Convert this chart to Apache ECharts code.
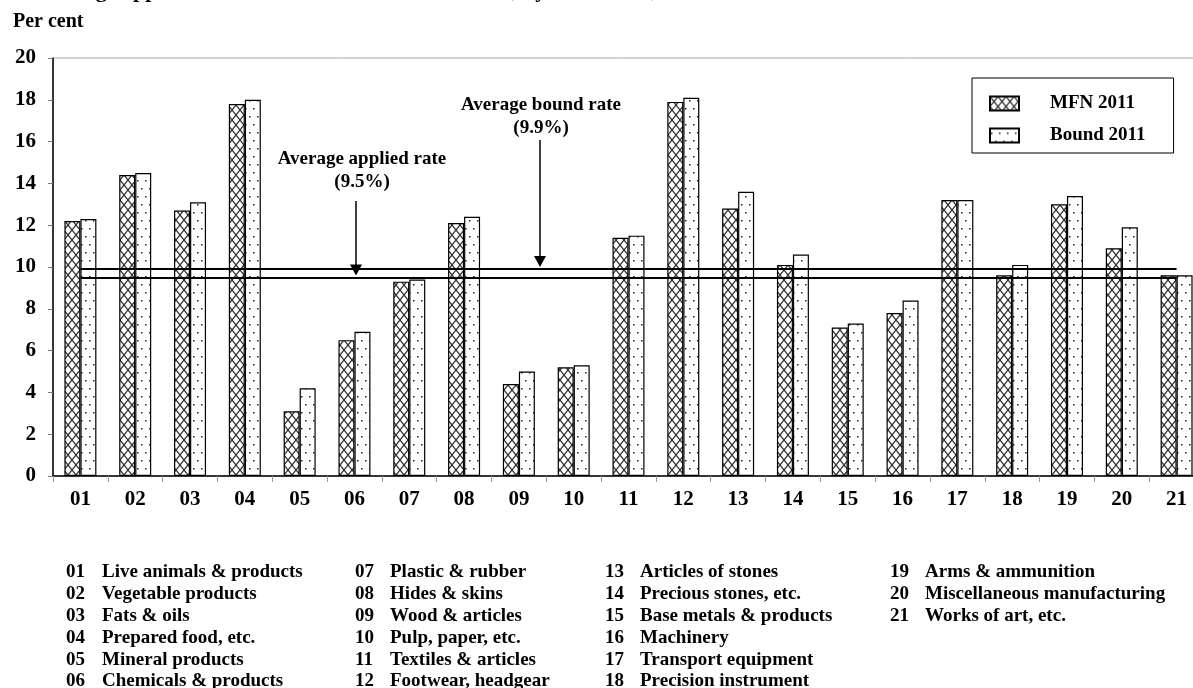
<!DOCTYPE html>
<html>
<head>
<meta charset="utf-8">
<title>Average applied MFN tariff rates and bound rates, by HS section, 2011</title>
<script src="https://cdn.jsdelivr.net/npm/echarts@6/dist/echarts.min.js"></script>
<style>
  html, body { margin: 0; padding: 0; background: #fff; }
  #main { width: 1193px; height: 688px; }
</style>
</head>
<body>
<div id="main"></div>
<script>
// HS sections and tariff rates (per cent)
const categories = ['01','02','03','04','05','06','07','08','09','10','11','12','13','14','15','16','17','18','19','20','21'];
const mfn2011   = [12.2, 14.4, 12.7, 17.8, 3.1, 6.5, 9.3, 12.1, 4.4, 5.2, 11.4, 17.9, 12.8, 10.1, 7.1, 7.8, 13.2, 9.6, 13.0, 10.9, 9.6];
const bound2011 = [12.3, 14.5, 13.1, 18.0, 4.2, 6.9, 9.4, 12.4, 5.0, 5.3, 11.5, 18.1, 13.6, 10.6, 7.3, 8.4, 13.2, 10.1, 13.4, 11.9, 9.6];
const averageApplied = 9.5;
const averageBound = 9.9;
const seriesNames = ['MFN 2011', 'Bound 2011'];
const sectionNames = [
  'Live animals & products', 'Vegetable products', 'Fats & oils', 'Prepared food, etc.',
  'Mineral products', 'Chemicals & products', 'Plastic & rubber', 'Hides & skins',
  'Wood & articles', 'Pulp, paper, etc.', 'Textiles & articles', 'Footwear, headgear',
  'Articles of stones', 'Precious stones, etc.', 'Base metals & products', 'Machinery',
  'Transport equipment', 'Precision instrument', 'Arms & ammunition',
  'Miscellaneous manufacturing', 'Works of art, etc.'
];
const titleText = 'Average applied MFN tariff rates and bound rates, by HS section, 2011';
const unitText = 'Per cent';
const appliedLabel = ['Average applied rate', '(' + averageApplied.toFixed(1) + '%)'];
const boundLabel = ['Average bound rate', '(' + averageBound.toFixed(1) + '%)'];

const FONT = "'Liberation Serif', 'Times New Roman', serif";

// Fill patterns: cross-hatch for MFN bars, sparse dots for bound bars
function crossHatch() {
  const c = document.createElement('canvas');
  c.width = 8; c.height = 10;
  const g = c.getContext('2d');
  g.fillStyle = '#fff'; g.fillRect(0, 0, 8, 10);
  g.strokeStyle = '#333'; g.lineWidth = 1.3;
  g.beginPath();
  g.moveTo(0, 0); g.lineTo(8, 10);
  g.moveTo(8, 0); g.lineTo(0, 10);
  g.stroke();
  return c;
}
function dots() {
  const c = document.createElement('canvas');
  c.width = 8; c.height = 16;
  const g = c.getContext('2d');
  g.fillStyle = '#fff'; g.fillRect(0, 0, 8, 16);
  g.fillStyle = '#222';
  g.fillRect(1, 4, 1.5, 1.5);
  g.fillRect(5, 12, 1.5, 1.5);
  return c;
}
const hatchFill = { image: crossHatch(), repeat: 'repeat' };
const dotFill = { image: dots(), repeat: 'repeat' };

function boldText(id, left, top, text, size) {
  return {
    type: 'text', id: id, left: left, top: top, z: 20,
    style: { text: text, fontFamily: FONT, fontWeight: 'bold', fontSize: size, fill: '#000' }
  };
}

// Section key below the chart, six rows per column
const keyColumns = [{ code: 66, name: 102 }, { code: 355, name: 390 }, { code: 605, name: 640 }, { code: 890, name: 925 }];
const keyGraphics = [];
sectionNames.forEach((name, i) => {
  const col = keyColumns[Math.floor(i / 6)];
  const top = 563 + (i % 6) * 21.8;
  keyGraphics.push(boldText('code' + i, col.code, top, categories[i], 19));
  keyGraphics.push(boldText('name' + i, col.name, top, name, 19));
});

const chart = echarts.init(document.getElementById('main'));

chart.setOption({
  animation: false,
  backgroundColor: '#fff',
  textStyle: { fontFamily: FONT },
  grid: {
    left: 53, top: 58, width: 1151, height: 418,
    outerBoundsMode: 'none', containLabel: false,
    show: true, borderColor: '#a8a8a8', borderWidth: 1, backgroundColor: 'transparent'
  },
  legend: {
    orient: 'vertical',
    left: 972, top: 78,
    padding: [16, 28, 8, 17],
    itemGap: 13,
    itemWidth: 29, itemHeight: 14,
    icon: 'rect',
    borderColor: '#000', borderWidth: 1,
    selectedMode: false,
    textStyle: { fontFamily: FONT, fontWeight: 'bold', fontSize: 19, color: '#000', padding: [0, 0, 0, 26] },
    data: seriesNames
  },
  xAxis: {
    type: 'category',
    data: categories,
    axisLine: { lineStyle: { color: '#000', width: 1.5 } },
    axisTick: { show: true, length: 6, lineStyle: { color: '#999' } },
    axisLabel: { color: '#000', fontWeight: 'bold', fontSize: 21, fontFamily: FONT, margin: 13 },
    splitLine: { show: false }
  },
  yAxis: {
    type: 'value',
    min: 0, max: 20, interval: 2,
    axisLine: { show: true, lineStyle: { color: '#000', width: 1.5 } },
    axisTick: { show: true, length: 5, lineStyle: { color: '#777' } },
    axisLabel: { color: '#000', fontWeight: 'bold', fontSize: 21, fontFamily: FONT, margin: 17 },
    splitLine: { show: false }
  },
  series: [
    {
      name: seriesNames[0], type: 'bar', data: mfn2011,
      barWidth: 16, barGap: '0%',
      itemStyle: { color: hatchFill, borderColor: '#000', borderWidth: 1.2 }
    },
    {
      name: seriesNames[1], type: 'bar', data: bound2011,
      barWidth: 16,
      itemStyle: { color: dotFill, borderColor: '#000', borderWidth: 1.2 }
    },
    {
      // Average rate reference lines, spanning from the first to the last section
      name: 'Averages', type: 'line', data: [], silent: true, z: 5,
      markLine: {
        silent: true, symbol: 'none', z: 10,
        label: { show: false },
        lineStyle: { color: '#000', width: 2, type: 'solid' },
        data: [
          [{ coord: [categories[0], averageBound] }, { coord: [categories[categories.length - 1], averageBound] }],
          [{ coord: [categories[0], averageApplied] }, { coord: [categories[categories.length - 1], averageApplied] }]
        ]
      }
    }
  ],
  graphic: [
    boldText('title', 40, -20, titleText, 22),
    boldText('unit', 13, 12, unitText, 20)
  ].concat(keyGraphics)
});

// Arrowed annotations pointing at the two average lines
function arrow(key, x, yStart, value, lines, textX, textY) {
  const tip = chart.convertToPixel({ yAxisIndex: 0 }, value) - 2;
  const head = 11;
  const center = { align: 'center', verticalAlign: 'middle' };
  return [
    { type: 'line', id: key + 'Shaft', z: 20, shape: { x1: x, y1: yStart, x2: x, y2: tip - head + 1 }, style: { stroke: '#000', lineWidth: 1.5 } },
    { type: 'polygon', id: key + 'Head', z: 20, shape: { points: [[x - 6, tip - head], [x + 6, tip - head], [x, tip]] }, style: { fill: '#000' } },
    { type: 'text', id: key + 'Text1', z: 20, x: textX, y: textY,
      style: Object.assign({ text: lines[0], fontFamily: FONT, fontWeight: 'bold', fontSize: 19, fill: '#000' }, center) },
    { type: 'text', id: key + 'Text2', z: 20, x: textX, y: textY + 23.5,
      style: Object.assign({ text: lines[1], fontFamily: FONT, fontWeight: 'bold', fontSize: 19, fill: '#000' }, center) }
  ];
}
chart.setOption({
  graphic: arrow('applied', 356, 201, averageApplied, appliedLabel, 362, 159)
    .concat(arrow('bound', 540, 140, averageBound, boundLabel, 541, 105))
});
</script>
</body>
</html>
